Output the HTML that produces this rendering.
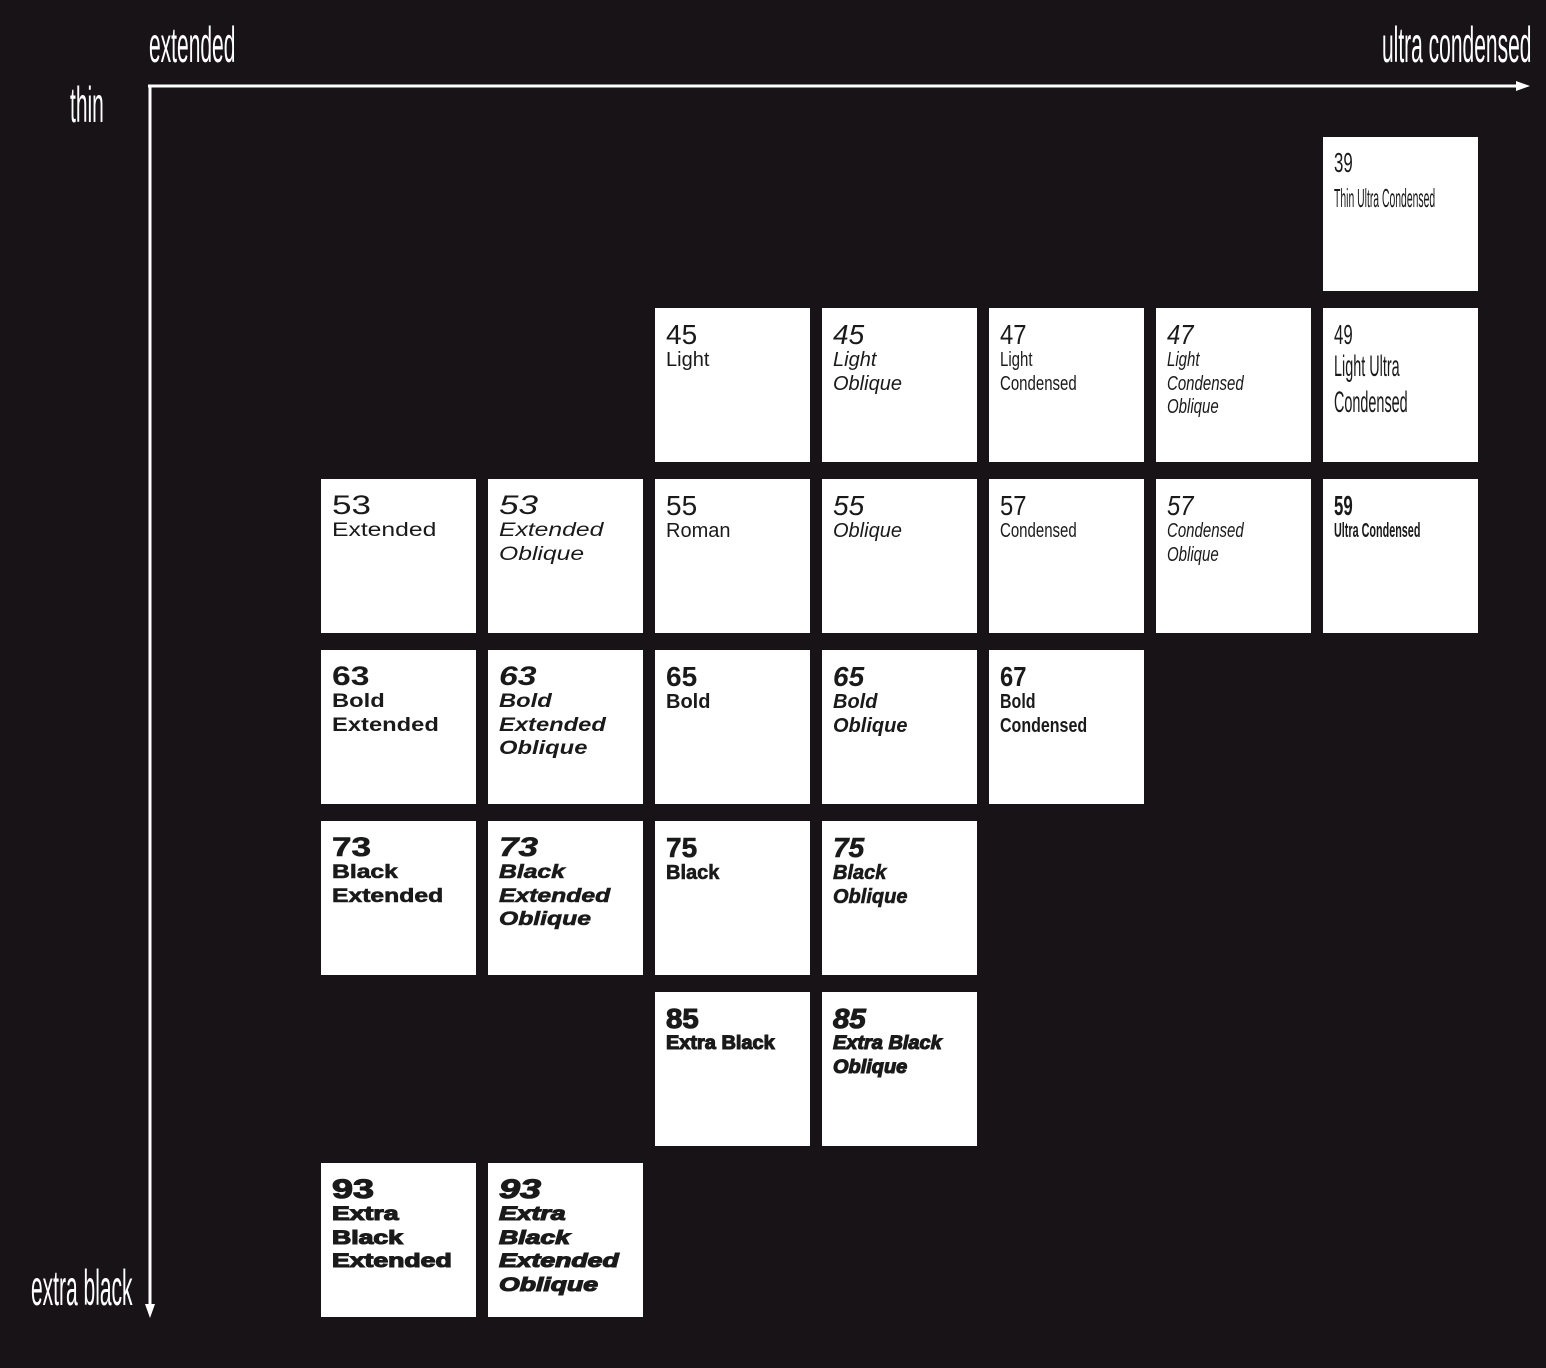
<!DOCTYPE html>
<html><head><meta charset="utf-8">
<style>
html,body{margin:0;padding:0}
body{width:1546px;height:1368px;background:#171316;position:relative;overflow:hidden;font-family:"Liberation Sans",sans-serif;}
.ax{position:absolute;color:#fff;font-size:50px;white-space:nowrap;transform-origin:0 0;line-height:1;}
.c{position:absolute;width:155px;height:154px;background:#fff;}
.t{position:absolute;left:11px;white-space:nowrap;transform-origin:0 0;color:#1a1a1a;line-height:1;}
</style></head><body>
<div class="ax" style="left:149px;top:20px;transform:scaleX(0.42)">extended</div>
<div class="ax" style="left:70px;top:80px;transform:scaleX(0.42)">thin</div>
<div class="ax" style="left:1382px;top:20px;transform:scaleX(0.42)">ultra condensed</div>
<div class="ax" style="left:31px;top:1263px;transform:scaleX(0.42)">extra black</div>
<svg style="position:absolute;left:0;top:0" width="1546" height="1368">
<line x1="148" y1="86" x2="1518" y2="86" stroke="#fff" stroke-width="3"/>
<polygon points="1516,81 1530,86 1516,91" fill="#fff"/>
<line x1="150" y1="85" x2="150" y2="1306" stroke="#fff" stroke-width="3"/>
<polygon points="145,1304 150,1318 155,1304" fill="#fff"/>
</svg>
<div id="g"></div>
<script>
var X=[321,488,655,822,989,1156,1323],Y=[137,308,479,650,821,992,1163];
var cells=[
[6,0,["39","Thin Ultra Condensed"],{w:400,s:0.4,n:28,l:26,lt:48,nt:12}],
[2,1,["45","Light"],{w:300,s:1,n:28,l:20}],
[3,1,["45","Light","Oblique"],{w:300,i:1,s:1,n:28,l:20}],
[4,1,["47","Light","Condensed"],{w:300,s:0.75,n:28,l:20}],
[5,1,["47","Light","Condensed","Oblique"],{w:300,i:1,s:0.75,n:28,l:20}],
[6,1,["49","Light Ultra","Condensed"],{w:400,s:0.48,n:28,l:30,lh:36,lt:44}],
[0,2,["53","Extended"],{w:400,s:1.3,n:27,l:19}],
[1,2,["53","Extended","Oblique"],{w:400,i:1,s:1.3,n:27,l:19}],
[2,2,["55","Roman"],{w:400,s:1,n:28,l:20}],
[3,2,["55","Oblique"],{w:400,i:1,s:1,n:28,l:20}],
[4,2,["57","Condensed"],{w:400,s:0.75,n:28,l:20}],
[5,2,["57","Condensed","Oblique"],{w:400,i:1,s:0.75,n:28,l:20}],
[6,2,["59","Ultra Condensed"],{w:700,s:0.54,n:28,l:20}],
[0,3,["63","Bold","Extended"],{w:700,s:1.25,n:27,l:19}],
[1,3,["63","Bold","Extended","Oblique"],{w:700,i:1,s:1.25,n:27,l:19}],
[2,3,["65","Bold"],{w:700,s:1,n:28,l:20}],
[3,3,["65","Bold","Oblique"],{w:700,i:1,s:1,n:28,l:20}],
[4,3,["67","Bold","Condensed"],{w:700,s:0.8,n:28,l:20}],
[0,4,["73","Black","Extended"],{w:700,s:1.3,n:27,l:19,k:0.6}],
[1,4,["73","Black","Extended","Oblique"],{w:700,i:1,s:1.3,n:27,l:19,k:0.6}],
[2,4,["75","Black"],{w:700,s:1,n:28,l:20,k:0.6}],
[3,4,["75","Black","Oblique"],{w:700,i:1,s:1,n:28,l:20,k:0.6}],
[2,5,["85","Extra Black"],{w:700,s:1.05,n:28,l:19,k:1.1}],
[3,5,["85","Extra Black","Oblique"],{w:700,i:1,s:1.05,n:28,l:19,k:1.1}],
[0,6,["93","Extra","Black","Extended"],{w:700,s:1.4,n:27,l:19,k:1.1}],
[1,6,["93","Extra","Black","Extended","Oblique"],{w:700,i:1,s:1.4,n:27,l:19,k:1.1}]
];
var h="";
cells.forEach(function(c){
 var o=c[3],lh=o.lh||23.5,lt=o.lt||42;
 h+='<div class="c" style="left:'+X[c[0]]+'px;top:'+Y[c[1]]+'px">';
 c[2].forEach(function(t,i){
  var sz=i?o.l:o.n, top=i?lt+(i-1)*lh:(o.nt||13);
  var ns=i?o.s:Math.max(o.s,0.85);
  if(!i&&o.s<0.7)ns=0.6;
  var st='top:'+top+'px;font-size:'+sz+'px;font-weight:'+o.w+';font-style:'+(o.i?'italic':'normal')+';transform:scaleX('+ns+');';
  if(o.k)st+='-webkit-text-stroke:'+o.k+'px #1a1a1a;';
  h+='<div class="t" style="'+st+'">'+t+'</div>';
 });
 h+='</div>';
});
document.getElementById('g').innerHTML=h;
</script>
</body></html>
